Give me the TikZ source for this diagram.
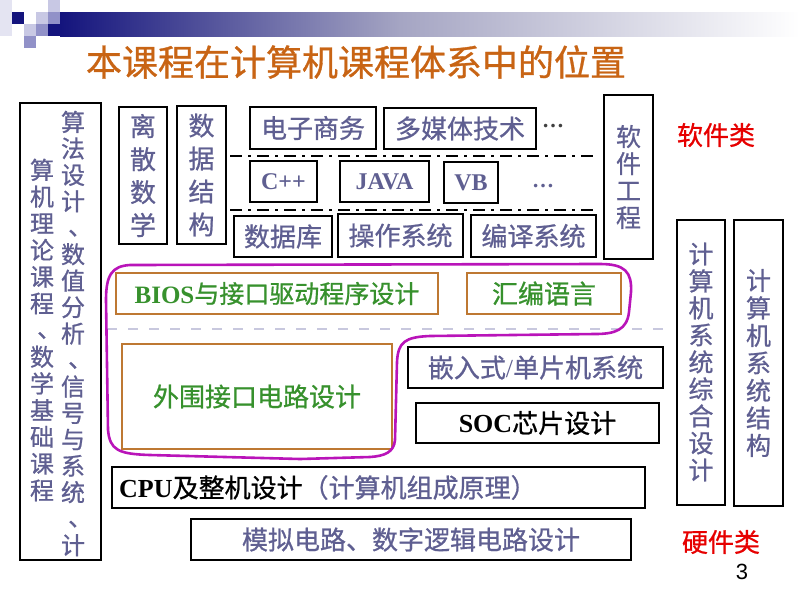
\documentclass[tikz,border=0pt]{standalone}
\usepackage{fontspec}
\setmainfont{Liberation Serif}
\newfontfamily\cjk[FakeBold=0.8]{Noto Sans CJK SC}
\newfontfamily\numfont{Liberation Sans}
\definecolor{txtblue}{RGB}{95,95,145}
\definecolor{titleor}{RGB}{200,100,20}
\definecolor{grn}{RGB}{55,145,45}
\definecolor{brd}{RGB}{190,120,50}
\definecolor{mag}{RGB}{185,20,185}
\definecolor{navy}{RGB}{20,20,125}
\definecolor{barmid}{RGB}{165,165,195}
\definecolor{dashgray}{RGB}{200,200,222}
\definecolor{sqlight}{RGB}{200,200,228}
\definecolor{sqmid}{RGB}{145,145,200}
\definecolor{hardred}{RGB}{230,0,0}
\newcommand\dun{\makebox[1em][l]{\hspace{0.3em}\raisebox{0.07em}{、}}}
\def\vtx#1#2\relax{#1\ifx\relax#2\relax\else\\\vtx#2\relax\fi}
\tikzset{
  box/.style={draw=black, line width=1.1pt, inner sep=0pt},
  obox/.style={draw=brd, line width=1.1pt, inner sep=0pt},
  hz/.style={font={\cjk\fontsize{26}{30}\selectfont}, text=txtblue},
  vt/.style={align=center, font={\cjk\fontsize{26}{33}\selectfont}, text=txtblue},
  dashdot/.style={line width=2.6pt, dash pattern=on 12pt off 6pt on 3pt off 6pt},
}
\begin{document}
\begin{tikzpicture}[x=1pt,y=-1pt]
\useasboundingbox (0,0) rectangle (800,600);
% header decoration
\fill[color={rgb,255:red,228;green,228;blue,242}] (0,0) rectangle (12,36);
\fill[navy] (12,12) rectangle (24,24);
\fill[sqlight] (36,12) rectangle (48,24);
\fill[sqlight] (48,0) rectangle (60,12);
\fill[sqmid] (48,12) rectangle (60,24);
\fill[sqlight] (24,24) rectangle (36,36);
\fill[sqmid] (36,24) rectangle (48,36);
\fill[sqmid] (24,36) rectangle (36,48);
\fill[navy] (48,24) rectangle (60,36);
\shade[left color=navy, right color=barmid] (60,12) rectangle (400,36);
\shade[left color=barmid, right color=white] (400,12) rectangle (800,36);
% title
\node[font={\cjk\fontsize{36}{40}\selectfont}, text=titleor] (title) at (356,62) {本课程在计算机课程体系中的位置};
% left column box
\node[box, minimum width=81pt, minimum height=457pt] (left) at (60.5,331.5) {};
\node[align=center, font={\cjk\fontsize{24}{26.45}\selectfont}, text=txtblue] (leftR) at (73,333.5)
 {\vtx 算法设计\dun 数值分析\dun 信号与系统\dun 计\relax};
\node[align=center, font={\cjk\fontsize{24}{26.7}\selectfont}, text=txtblue] (leftL) at (42,330)
 {\vtx 算机理论课程\dun 数学基础课程\relax};
% software boxes
\node[box, vt, minimum width=48pt, minimum height=137pt] (lisan) at (143,175.5) {\vtx 离散数学\relax};
\node[box, vt, minimum width=49pt, minimum height=138pt] (shuju) at (201.5,175) {\vtx 数据结构\relax};
\node[box, hz, minimum width=126pt, minimum height=42pt] (dianzi) at (313,128) {电子商务};
\node[box, hz, minimum width=152pt, minimum height=41pt] (duomei) at (460,128.5) {多媒体技术};
\node[font=\bfseries\fontsize{22}{24}\selectfont, text=black!75] (dots1) at (553,126) {…};
\coordinate (l1a) at (230,156); \coordinate (l1b) at (598,156);
\draw[dashdot] (l1a) -- (l1b);
\node[box, minimum width=67pt, minimum height=41pt, font=\bfseries\fontsize{24}{28}\selectfont, text=txtblue] (cpp) at (283.5,181.5) {C++};
\node[box, minimum width=89pt, minimum height=41pt, font=\bfseries\fontsize{24}{28}\selectfont, text=txtblue] (java) at (384.5,181.5) {JAVA};
\node[box, minimum width=54pt, minimum height=41pt, font=\bfseries\fontsize{24}{28}\selectfont, text=txtblue] (vb) at (471,182.5) {VB};
\node[font=\bfseries\fontsize{22}{24}\selectfont, text=txtblue] (dots2) at (543,186) {…};
\coordinate (l2a) at (230,210); \coordinate (l2b) at (598,210);
\draw[dashdot] (l2a) -- (l2b);
\node[box, hz, minimum width=98pt, minimum height=41pt] (shujuku) at (283,236.5) {数据库};
\node[box, hz, minimum width=125pt, minimum height=43pt] (caozuo) at (400.5,235.5) {操作系统};
\node[box, hz, minimum width=125pt, minimum height=42pt] (bianyi) at (533.5,236) {编译系统};
\node[box, align=center, font={\cjk\fontsize{25}{27}\selectfont}, text=txtblue, minimum width=49pt, minimum height=164pt] (ruanjian) at (628.5,177) {\vtx 软件工程\relax};
\node[font={\cjk\fontsize{26}{30}\selectfont}, text=hardred] (softcat) at (716,135) {软件类};
% system boxes right
\node[box, minimum width=48pt, minimum height=285pt] (zonghe) at (701,362.5) {};
\node[align=center, font={\cjk\fontsize{25}{27}\selectfont}, text=txtblue] (zongheT) at (701,362) {\vtx 计算机系统综合设计\relax};
\node[box, minimum width=49pt, minimum height=286pt] (jiegou) at (758.5,363) {};
\node[align=center, font={\cjk\fontsize{25}{27.5}\selectfont}, text=txtblue] (jiegouT) at (758.5,363) {\vtx 计算机系统结构\relax};
% interface layer
\node[obox, minimum width=322pt, minimum height=41pt, text=grn] (bios) at (277,293.5)
 {{\bfseries\fontsize{25}{28}\selectfont BIOS}{\cjk\fontsize{25}{28}\selectfont 与接口驱动程序设计}};
\node[obox, minimum width=154pt, minimum height=41pt, font={\cjk\fontsize{26}{30}\selectfont}, text=grn] (huibian) at (544,293.5) {汇编语言};
\coordinate (g1) at (107,329); \coordinate (g2) at (665,329);
\draw[dashgray, line width=2.6pt, dash pattern=on 10pt off 11pt] (g1) -- (g2);
\node[obox, minimum width=270pt, minimum height=105pt, font={\cjk\fontsize{26}{30}\selectfont}, text=grn] (waiwei) at (257,396.5) {外围接口电路设计};
\node[box, minimum width=255pt, minimum height=41pt, text=txtblue] (qianru) at (535.5,367.5)
 {{\cjk\fontsize{26}{30}\selectfont 嵌入式}{\fontsize{26}{30}\selectfont /}{\cjk\fontsize{26}{30}\selectfont 单片机系统}};
\node[box, minimum width=243pt, minimum height=40pt, text=black] (soc) at (537.5,423)
 {{\bfseries\fontsize{26}{30}\selectfont SOC}{\cjk\fontsize{26}{30}\selectfont 芯片设计}};
% magenta outline
\draw[mag, line width=2.6pt, line join=round]
 (130,265) -- (600,264) .. controls (625,264) and (632,272) .. (631,292)
 -- (629,312) .. controls (627,330) and (615,334) .. (595,334)
 -- (430,336) .. controls (405,337) and (398,342) .. (397,362)
 -- (395,440) .. controls (394,452) and (385,456) .. (370,457)
 -- (300,459) -- (150,455) .. controls (118,454) and (110,450) .. (108,430)
 -- (106,300) .. controls (106,275) and (112,266) .. (130,265) -- cycle;
% hardware
\node[box, minimum width=533pt, minimum height=41pt] (cpu) at (378.5,487.5) {};
\node[anchor=west, inner sep=0pt] (cpuT) at (119,487.5)
 {{\bfseries\fontsize{26}{30}\selectfont CPU}{\cjk\fontsize{26}{30}\selectfont 及整机设计\textcolor{txtblue}{（计算机组成原理）}}};
\node[box, hz, minimum width=440pt, minimum height=41pt] (moni) at (411,539.5) {模拟电路、数字逻辑电路设计};
\node[font={\cjk\fontsize{26}{30}\selectfont}, text=hardred] (hardcat) at (721,542) {硬件类};
\node[font={\numfont\fontsize{22}{24}\selectfont}] (pagenum) at (742,572) {3};
\end{tikzpicture}
\end{document}
